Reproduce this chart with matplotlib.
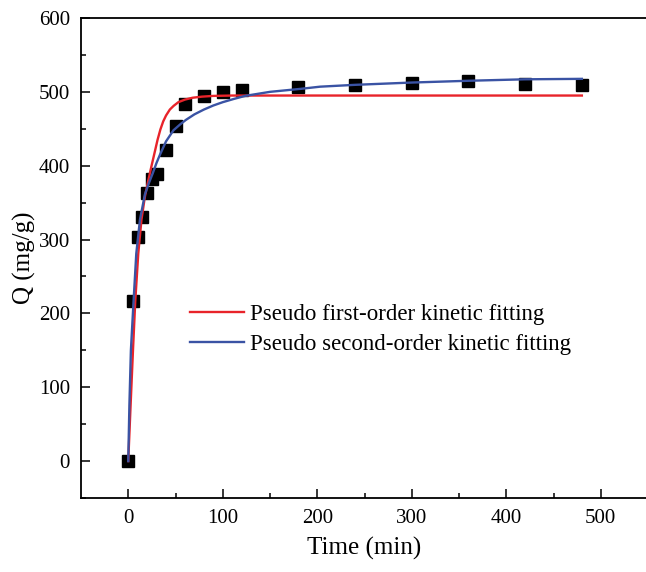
import matplotlib
matplotlib.use("Agg")
import matplotlib.pyplot as plt

plt.rcParams['font.family'] = ['Liberation Serif', 'DejaVu Serif']
plt.rcParams['mathtext.fontset'] = 'stix'

# Experimental data
time_exp = [0, 5, 10, 15, 20, 25, 30, 40, 50, 60, 80, 100, 120, 180, 240, 300, 360, 420, 480]
q_exp = [0, 217, 303, 331, 363, 382, 389, 421, 454, 483, 495, 500, 503, 506, 509, 512, 515, 510, 509]

# Pseudo first-order fit
time_pfo = [0, 2.5, 5, 7.4, 10.6, 14, 17.6, 21, 24.5, 28.3, 31, 34, 37, 40, 44, 48, 53, 60, 68, 78, 90, 110, 140, 200, 300, 400, 480]
q_pfo = [0, 76, 150, 216, 281, 327, 358, 379, 399, 420, 435, 449, 460, 468, 476, 481, 486, 489.5, 492, 493.5, 494.5, 495, 495, 495, 495, 495, 495]

# Pseudo second-order fit
time_pso = [0, 1.2, 2.8, 5.6, 8.5, 12.4, 17.6, 22, 26, 30, 33.6, 40, 47.9, 55, 61, 70, 80, 90, 100, 112, 124, 150, 182, 203, 240, 300, 360, 420, 480]
q_pso = [0, 75, 150, 216, 281, 327, 361, 377, 390, 404, 415, 433, 448, 456, 462, 469.5, 476, 481.5, 486, 490.5, 494.6, 500, 504, 507, 509.5, 512.6, 515, 517, 517.6]

labels = ['Pseudo first-order kinetic fitting', 'Pseudo second-order kinetic fitting']

W, H = 646, 572
fig = plt.figure(figsize=(W / 100, H / 100), dpi=100)
ax = fig.add_axes([81 / W, 1 - 498 / H, (648 - 81) / W, (498 - 18) / H])

ax.plot(time_exp, q_exp, 's', color='black', markersize=8, zorder=2)
ax.plot(time_pfo, q_pfo, '-', color='#E8232A', lw=1.7, label=labels[0], zorder=3)
ax.plot(time_pso, q_pso, '-', color='#3A53A4', lw=1.7, label=labels[1], zorder=3)

ax.set_xlim(-50, 550)
ax.set_ylim(-50, 600)
ax.set_xticks([0, 100, 200, 300, 400, 500])
ax.set_yticks([0, 100, 200, 300, 400, 500, 600])
ax.set_xticks([50, 150, 250, 350, 450], minor=True)
ax.set_yticks([-50, 50, 150, 250, 350, 450, 550], minor=True)

ax.tick_params(which='major', direction='in', length=6.5, width=1.1, labelsize=15, pad=8,
               top=False, right=False)
ax.tick_params(which='minor', direction='in', length=3.5, width=1.1, top=False, right=False)
for s in ['left', 'bottom', 'top']:
    ax.spines[s].set_linewidth(1.3)
ax.spines['right'].set_visible(False)

ax.set_xlabel('Time (min)', fontsize=18, labelpad=6)
ax.set_ylabel('Q (mg/g)', fontsize=18, labelpad=2)

leg = ax.legend(loc='upper left', bbox_to_anchor=(190 / W, 1 - 304 / H),
                bbox_transform=fig.transFigure, frameon=False, fontsize=16.5,
                handlelength=2.35, handletextpad=0.25, labelspacing=0.4,
                borderpad=0, borderaxespad=0)

fig.savefig('out.png', dpi=100)
